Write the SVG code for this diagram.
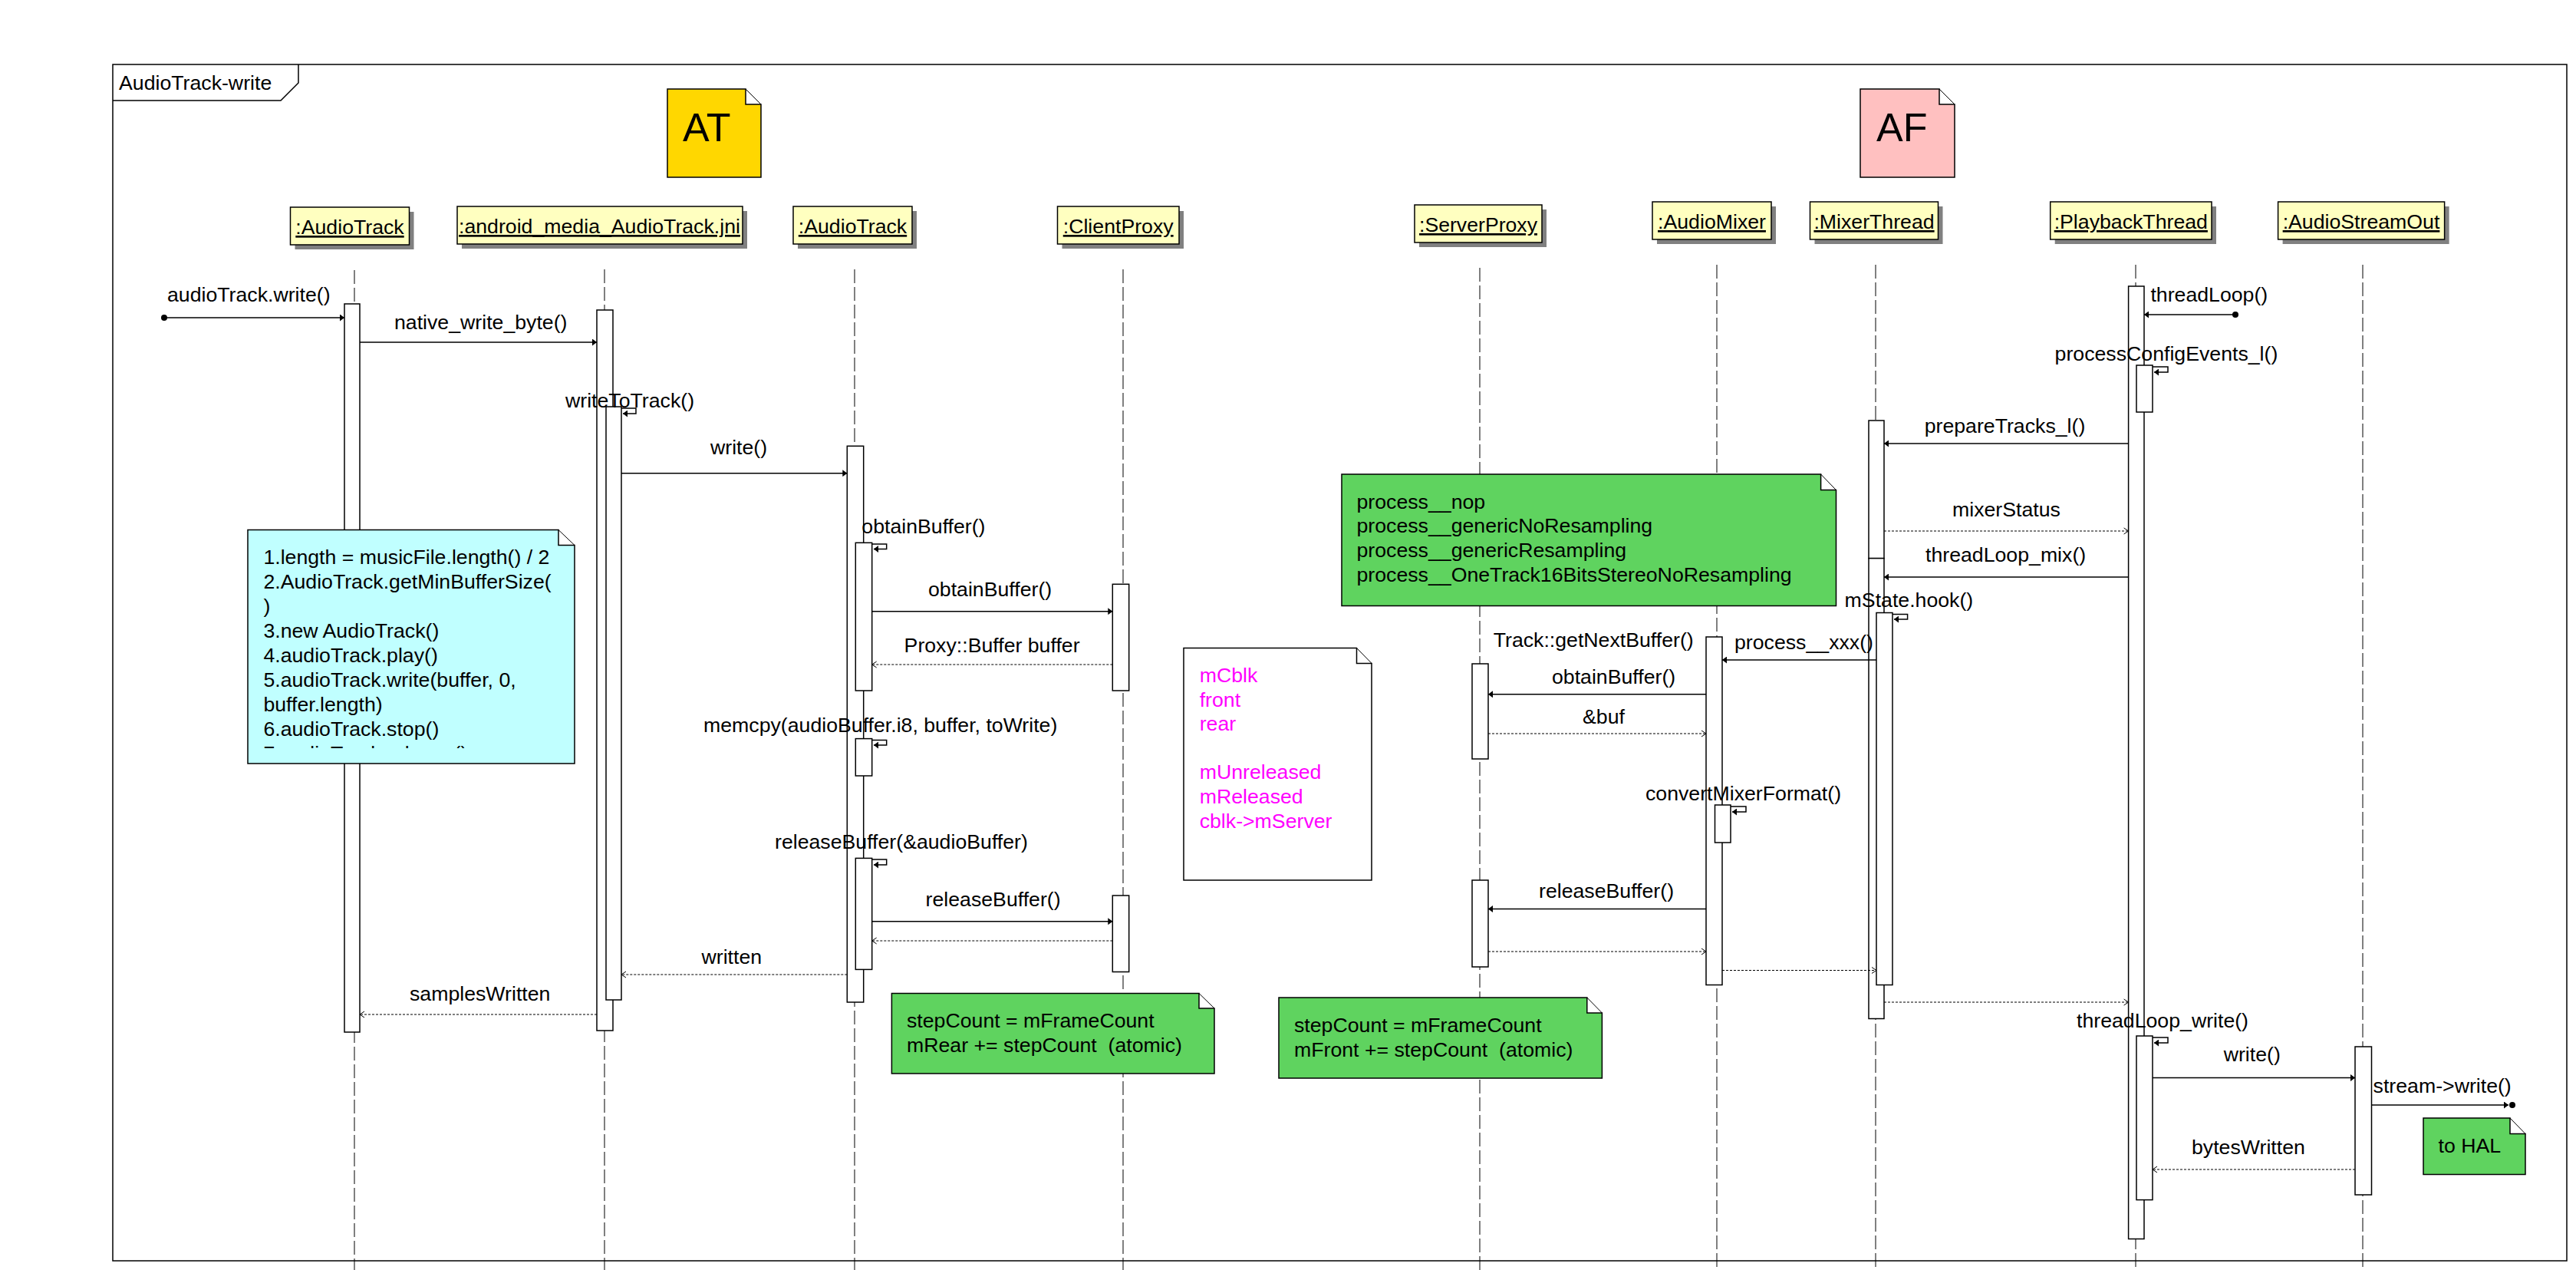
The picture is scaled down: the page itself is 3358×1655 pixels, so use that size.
<svg xmlns="http://www.w3.org/2000/svg" width="3358" height="1655" viewBox="0 0 3358 1655">
<style>
text{font-family:"Liberation Sans",Arial,sans-serif;font-size:26.7px;fill:#000}
.hdr{fill:#FFFFC0;stroke:#000;stroke-width:1.5}
.shd{fill:#808080}
.ht{text-anchor:middle;text-decoration:underline}
.ll{stroke:#000;stroke-width:1;stroke-dasharray:18 5;fill:none}
.act{fill:#fff;stroke:#000;stroke-width:1.5}
.msg{stroke:#000;stroke-width:1.5;fill:none;marker-end:url(#ah)}
.ret{stroke:#000;stroke-width:1.2;stroke-dasharray:3 2;fill:none;marker-end:url(#oh)}
.note{stroke:#000;stroke-width:1.5}
.fold{stroke:#000;stroke-width:1;fill:none}
.g{fill:#5FD35F}
.mag{fill:#FF00FF}
</style>
<defs>
<marker id="ah" markerUnits="userSpaceOnUse" markerWidth="6" markerHeight="9" refX="6" refY="4.5" orient="auto"><path d="M0,0 L6,4.5 L0,9 z" fill="#000"/></marker>
<marker id="oh" markerUnits="userSpaceOnUse" markerWidth="8" markerHeight="10" refX="7" refY="5" orient="auto"><path d="M1,1 L7,5 L1,9" fill="none" stroke="#000" stroke-width="1"/></marker>
<clipPath id="cyclip"><rect x="323" y="690" width="426" height="285"/></clipPath>
<clipPath id="jniclip"><rect x="596" y="269" width="372" height="49"/></clipPath>
</defs>
<rect width="3358" height="1655" fill="#fff"/>

<g id="frame">
<rect x="147" y="84" width="3199" height="1559" fill="none" stroke="#000" stroke-width="1.5"/>
<path d="M147,131 H366 L389,108 V84" fill="none" stroke="#000" stroke-width="1.5"/>
<text x="155" y="117">AudioTrack-write</text>
</g>

<g id="note-AT">
<path class="note" d="M870,116 H972 V136 H992 V231 H870 Z" fill="#FFD700"/>
<path class="fold" d="M972,116 L992,136"/>
<text x="890" y="184" style="font-size:52px">AT</text>
</g>
<g id="note-AF">
<path class="note" d="M2425,116 H2528 V136 H2548 V231 H2425 Z" fill="#FFC0C0"/>
<path class="fold" d="M2528,116 L2548,136"/>
<text x="2446" y="184" style="font-size:52px">AF</text>
</g>

<g id="lifelines">
<line class="ll" x1="462" y1="352" x2="462" y2="1655"/>
<line class="ll" x1="788" y1="351" x2="788" y2="1655"/>
<line class="ll" x1="1114" y1="351" x2="1114" y2="1655"/>
<line class="ll" x1="1464" y1="351" x2="1464" y2="1655"/>
<line class="ll" x1="1929" y1="349" x2="1929" y2="1655"/>
<line class="ll" x1="2238" y1="345" x2="2238" y2="1655"/>
<line class="ll" x1="2445" y1="345" x2="2445" y2="1655"/>
<line class="ll" x1="2784" y1="345" x2="2784" y2="1655"/>
<line class="ll" x1="3080" y1="345" x2="3080" y2="1655"/>
</g>

<g id="h-AudioTrack1"><rect class="shd" x="384.5" y="276" width="155" height="49"/><rect class="hdr" x="378.5" y="270" width="155" height="49"/><text class="ht" x="456" y="305">:AudioTrack</text></g>
<g id="h-jni"><rect class="shd" x="602" y="275" width="372" height="49"/><rect class="hdr" x="596" y="269" width="372" height="49"/><text x="598" y="304" clip-path="url(#jniclip)" style="text-decoration:underline">:android_media_AudioTrack.jni</text></g>
<g id="h-AudioTrack2"><rect class="shd" x="1040" y="275" width="155" height="49"/><rect class="hdr" x="1034" y="269" width="155" height="49"/><text class="ht" x="1111.5" y="304">:AudioTrack</text></g>
<g id="h-ClientProxy"><rect class="shd" x="1384.5" y="275" width="158.5" height="49"/><rect class="hdr" x="1378.5" y="269" width="158.5" height="49"/><text class="ht" x="1457.7" y="304">:ClientProxy</text></g>
<g id="h-ServerProxy"><rect class="shd" x="1850" y="273" width="166" height="49"/><rect class="hdr" x="1844" y="267" width="166" height="49"/><text class="ht" x="1927" y="302" textLength="154" lengthAdjust="spacingAndGlyphs">:ServerProxy</text></g>
<g id="h-AudioMixer"><rect class="shd" x="2160" y="269" width="155" height="49"/><rect class="hdr" x="2154" y="263" width="155" height="49"/><text class="ht" x="2231.5" y="298">:AudioMixer</text></g>
<g id="h-MixerThread"><rect class="shd" x="2365.5" y="269" width="167" height="49"/><rect class="hdr" x="2359.5" y="263" width="167" height="49"/><text class="ht" x="2443" y="298">:MixerThread</text></g>
<g id="h-PlaybackThread"><rect class="shd" x="2678.7" y="269" width="210.3" height="49"/><rect class="hdr" x="2672.7" y="263" width="210.3" height="49"/><text class="ht" x="2777.8" y="298">:PlaybackThread</text></g>
<g id="h-AudioStreamOut"><rect class="shd" x="2975.6" y="269" width="217" height="49"/><rect class="hdr" x="2969.6" y="263" width="217" height="49"/><text class="ht" x="3078" y="298">:AudioStreamOut</text></g>

<g id="activations">
<rect class="act" x="449" y="396" width="20" height="949"/>
<rect class="act" x="778" y="404" width="21" height="939"/>
<rect class="act" x="790" y="530" width="20" height="773"/>
<rect class="act" x="1104.3" y="581.3" width="21.4" height="724.7"/>
<rect class="act" x="1115.3" y="707.3" width="21.4" height="192.7"/>
<rect class="act" x="1115.3" y="962.6" width="21.4" height="48.4"/>
<rect class="act" x="1115.3" y="1118.4" width="21.4" height="145"/>
<rect class="act" x="1450.3" y="761.3" width="21.4" height="138.7"/>
<rect class="act" x="1450.3" y="1167" width="21.4" height="99.5"/>
<rect class="act" x="1919" y="865" width="21" height="124"/>
<rect class="act" x="1919" y="1147" width="21" height="113"/>
<rect class="act" x="2224" y="830" width="21" height="453.5"/>
<rect class="act" x="2235.5" y="1049" width="20.5" height="49"/>
<rect class="act" x="2436" y="548" width="20" height="179.6"/>
<rect class="act" x="2436" y="727.6" width="20" height="599.9"/>
<rect class="act" x="2446" y="798.5" width="21" height="485"/>
<rect class="act" x="2774.6" y="373" width="20.4" height="1241.5"/>
<rect class="act" x="2785" y="476" width="21" height="61"/>
<rect class="act" x="2785" y="1350" width="21" height="213.6"/>
<rect class="act" x="3070" y="1364" width="21.5" height="193"/>
</g>

<g id="connectors">
<circle cx="214" cy="414" r="4"/>
<line class="msg" x1="214" y1="414" x2="449" y2="414"/>
<line class="msg" x1="469" y1="446" x2="778" y2="446"/>
<path class="msg" d="M810,532 H829 V539 H812"/>
<line class="msg" x1="810" y1="616.7" x2="1104.3" y2="616.7"/>
<path class="msg" d="M1136.7,709 H1155.7 V715.5 H1139"/>
<line class="msg" x1="1136.7" y1="796.7" x2="1450.3" y2="796.7"/>
<line class="ret" x1="1450.3" y1="866" x2="1136.7" y2="866"/>
<path class="msg" d="M1136.7,964.5 H1155.7 V971 H1139"/>
<path class="msg" d="M1136.7,1120 H1155.7 V1127 H1139"/>
<line class="msg" x1="1136.7" y1="1200.8" x2="1450.3" y2="1200.8"/>
<line class="ret" x1="1450.3" y1="1226" x2="1136.7" y2="1226"/>
<line class="ret" x1="1104.3" y1="1270" x2="810" y2="1270"/>
<line class="ret" x1="778" y1="1322" x2="469" y2="1322"/>

<circle cx="2914" cy="410" r="4"/>
<line class="msg" x1="2914" y1="410" x2="2795" y2="410"/>
<path class="msg" d="M2806,478 H2826 V485 H2808"/>
<line class="msg" x1="2774.6" y1="578" x2="2456" y2="578"/>
<line class="ret" x1="2456" y1="692" x2="2774.6" y2="692"/>
<line class="msg" x1="2774.6" y1="752" x2="2456" y2="752"/>
<path class="msg" d="M2467,800.5 H2486.6 V807 H2469"/>
<line class="msg" x1="2446" y1="860" x2="2245" y2="860"/>
<line class="msg" x1="2224" y1="904.8" x2="1940" y2="904.8"/>
<line class="ret" x1="1940" y1="956" x2="2224" y2="956"/>
<path class="msg" d="M2256,1051 H2276 V1058 H2258"/>
<line class="msg" x1="2224" y1="1184.5" x2="1940" y2="1184.5"/>
<line class="ret" x1="1940" y1="1240" x2="2224" y2="1240"/>
<line class="ret" x1="2245" y1="1264.5" x2="2446" y2="1264.5"/>
<line class="ret" x1="2456" y1="1306" x2="2774.6" y2="1306"/>
<path class="msg" d="M2806,1352 H2826 V1359 H2808"/>
<line class="msg" x1="2806" y1="1404.6" x2="3070" y2="1404.6"/>
<line class="msg" x1="3091.5" y1="1440" x2="3270" y2="1440"/>
<circle cx="3275" cy="1440" r="4"/>
<line class="ret" x1="3070" y1="1524" x2="2806" y2="1524"/>
</g>

<g id="labels">
<text x="218" y="393">audioTrack.write()</text>
<text x="514" y="429">native_write_byte()</text>
<text x="737" y="531">writeToTrack()</text>
<text x="926" y="592">write()</text>
<text x="1123.3" y="695">obtainBuffer()</text>
<text x="1210" y="777">obtainBuffer()</text>
<text x="1178.6" y="850">Proxy::Buffer buffer</text>
<text x="917" y="954">memcpy(audioBuffer.i8, buffer, toWrite)</text>
<text x="1010" y="1106">releaseBuffer(&amp;audioBuffer)</text>
<text x="1206.6" y="1181">releaseBuffer()</text>
<text x="914.5" y="1256">written</text>
<text x="534" y="1304">samplesWritten</text>
<text x="2803.4" y="393">threadLoop()</text>
<text x="2678.6" y="470">processConfigEvents_l()</text>
<text x="2508.7" y="564">prepareTracks_l()</text>
<text x="2545" y="673">mixerStatus</text>
<text x="2510" y="732">threadLoop_mix()</text>
<text x="2404.6" y="791">mState.hook()</text>
<text x="2261" y="846">process__xxx()</text>
<text x="1946.7" y="843">Track::getNextBuffer()</text>
<text x="2023" y="891">obtainBuffer()</text>
<text x="2063" y="943">&amp;buf</text>
<text x="2145" y="1043">convertMixerFormat()</text>
<text x="2006" y="1170">releaseBuffer()</text>
<text x="2707" y="1339">threadLoop_write()</text>
<text x="2898.7" y="1383">write()</text>
<text x="3093.6" y="1424">stream-&gt;write()</text>
<text x="2857" y="1504">bytesWritten</text>
</g>

<g id="note-app">
<path class="note" d="M323,690.5 H728 V710.5 H749 V995 H323 Z" fill="#C0FFFF"/>
<path class="fold" d="M728,690.5 L749,710.5"/>
<g clip-path="url(#cyclip)">
<text x="343.4" y="735.4">1.length = musicFile.length() / 2</text>
<text x="343.4" y="767.4">2.AudioTrack.getMinBufferSize(</text>
<text x="343.4" y="799.4">)</text>
<text x="343.4" y="831.3">3.new AudioTrack()</text>
<text x="343.4" y="863.2">4.audioTrack.play()</text>
<text x="343.4" y="895.1">5.audioTrack.write(buffer, 0,</text>
<text x="343.4" y="927">buffer.length)</text>
<text x="343.4" y="959">6.audioTrack.stop()</text>
<text x="343.4" y="991">7.audioTrack.release()</text>
</g>
</g>

<g id="note-process">
<path class="note g" d="M1749,618 H2373.6 V638.6 H2393.5 V789.4 H1749 Z"/>
<path class="fold" d="M2373.6,618 L2393.5,638.6"/>
<text x="1768.5" y="662.8">process__nop</text>
<text x="1768.5" y="694.4">process__genericNoResampling</text>
<text x="1768.5" y="726">process__genericResampling</text>
<text x="1768.5" y="757.6">process__OneTrack16BitsStereoNoResampling</text>
</g>

<g id="note-cblk">
<path class="note" d="M1543,844.5 H1768.5 V864.4 H1788 V1147 H1543 Z" fill="#fff"/>
<path class="fold" d="M1768.5,844.5 L1788,864.4"/>
<text class="mag" x="1563.7" y="889">mCblk</text>
<text class="mag" x="1563.7" y="920.6">front</text>
<text class="mag" x="1563.7" y="952.2">rear</text>
<text class="mag" x="1563.7" y="1015.4">mUnreleased</text>
<text class="mag" x="1563.7" y="1047">mReleased</text>
<text class="mag" x="1563.7" y="1078.6">cblk-&gt;mServer</text>
</g>

<g id="note-rear">
<path class="note g" d="M1162.4,1294.5 H1563 V1314 H1583 V1399 H1162.4 Z"/>
<path class="fold" d="M1563,1294.5 L1583,1314"/>
<text x="1182" y="1339" xml:space="preserve">stepCount = mFrameCount</text>
<text x="1182" y="1371" xml:space="preserve">mRear += stepCount  (atomic)</text>
</g>

<g id="note-front">
<path class="note g" d="M1667,1300 H2068.8 V1320 H2088.4 V1405 H1667 Z"/>
<path class="fold" d="M2068.8,1300 L2088.4,1320"/>
<text x="1687" y="1344.6" xml:space="preserve">stepCount = mFrameCount</text>
<text x="1687" y="1377" xml:space="preserve">mFront += stepCount  (atomic)</text>
</g>

<g id="note-hal">
<path class="note g" d="M3159,1457 H3272 V1477.5 H3292 V1530.6 H3159 Z"/>
<path class="fold" d="M3272,1457 L3292,1477.5"/>
<text x="3178.6" y="1502">to HAL</text>
</g>
</svg>
